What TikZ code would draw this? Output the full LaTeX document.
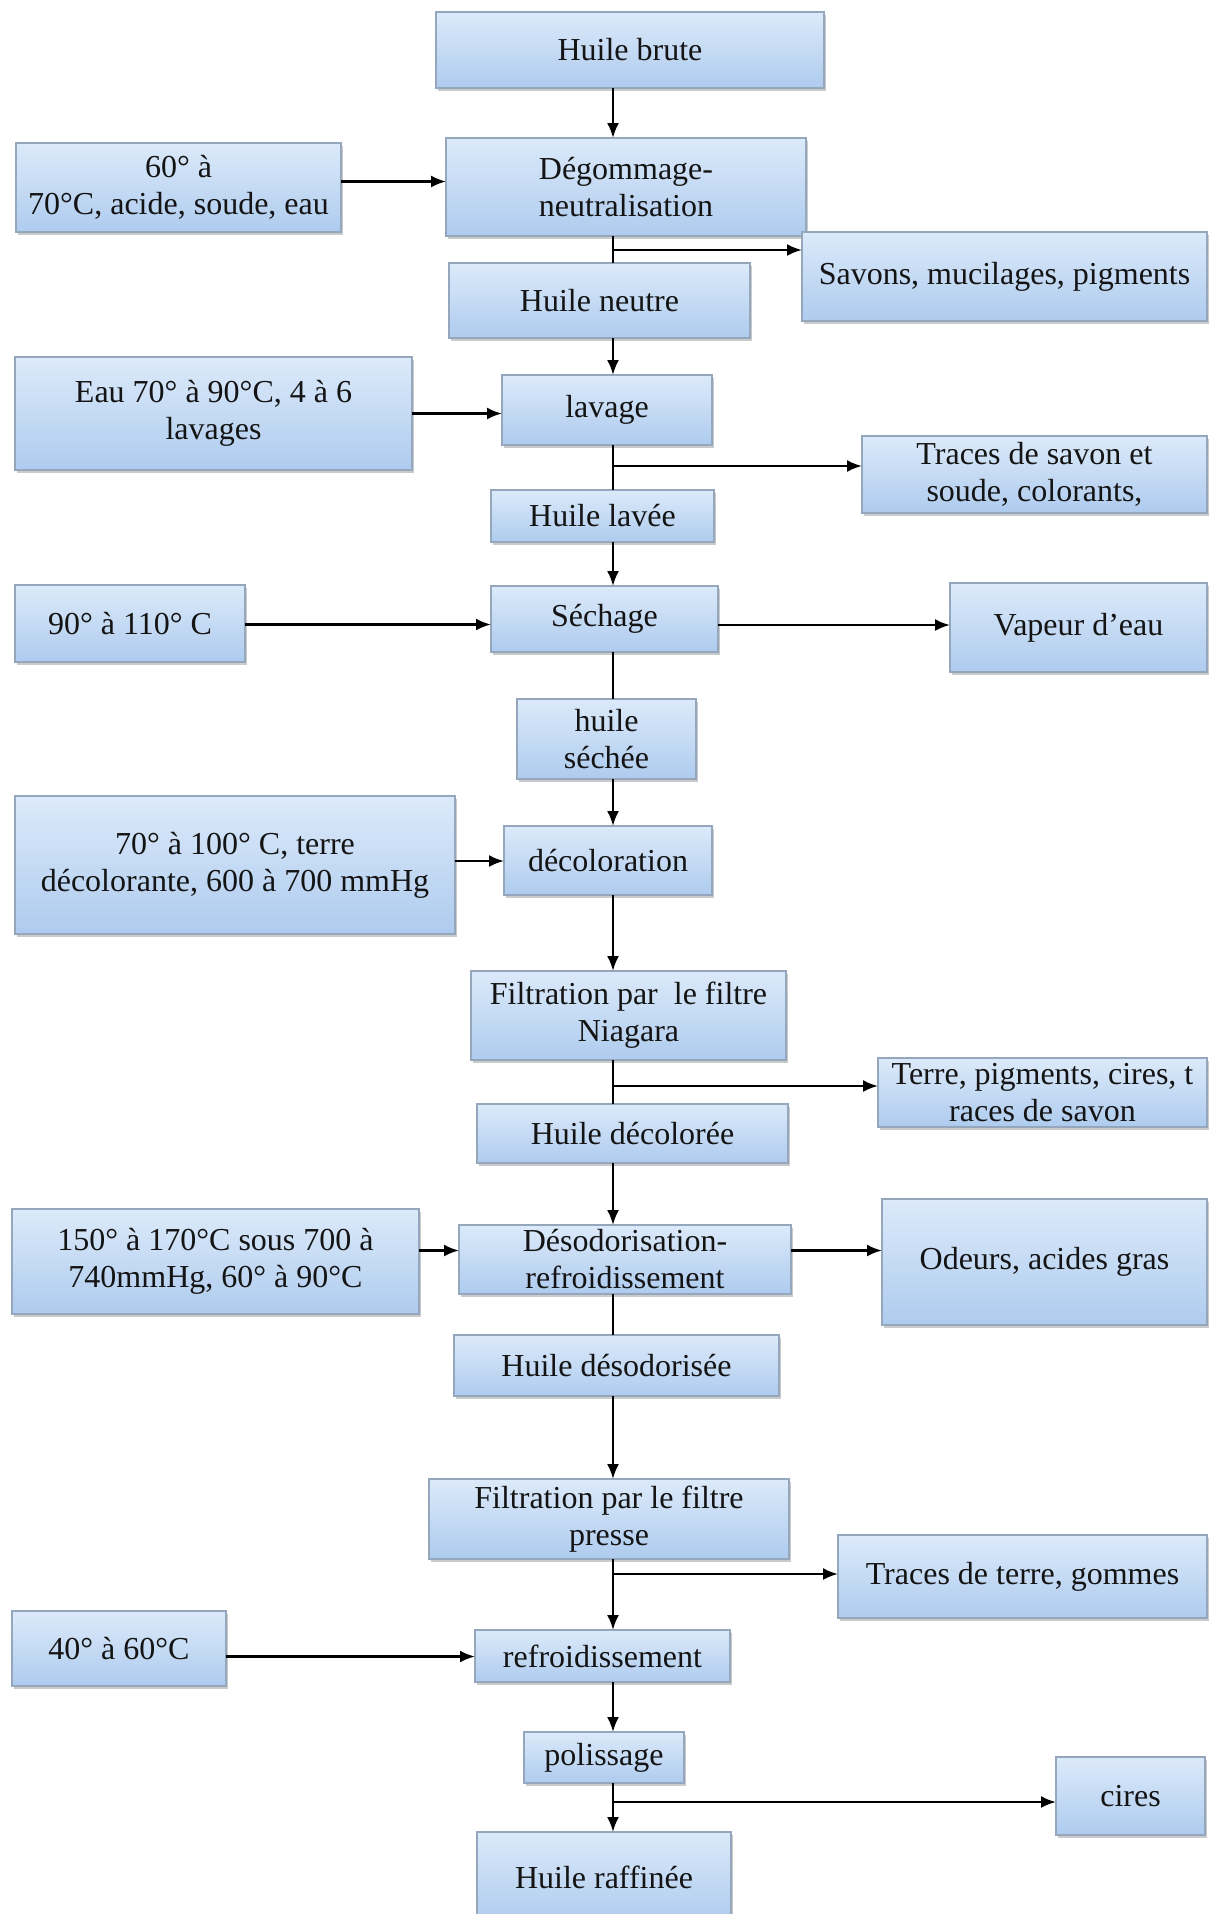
\documentclass[tikz,border=0pt]{standalone}
\usepackage{fontspec}
\setmainfont{Liberation Serif}
\usepackage{tikz}
\usetikzlibrary{arrows.meta}
\usetikzlibrary{shadows}
\definecolor{boxtop}{HTML}{DCEAFA}
\definecolor{boxbot}{HTML}{AECBEE}
\definecolor{boxline}{HTML}{95A7BD}
\definecolor{ink}{HTML}{141414}

\begin{document}
\begin{tikzpicture}[x=1pt, y=-1pt, every node/.style={font=\fontsize{32}{37}\selectfont, text=ink},
  box/.style={rectangle, draw=boxline, line width=1.2pt, top color=boxtop, bottom color=boxbot, inner sep=0pt, outer sep=0pt, align=center,
    drop shadow={shadow xshift=2pt, shadow yshift=-3pt, opacity=0.35, fill=black!60}},
  wh/.style 2 args={minimum width=#1, minimum height=#2},
  arr/.style={line width=2.4pt, -{Latex[length=15pt, width=12pt]}},
  seg/.style={line width=2.4pt}]
        % Fix the page size
        \useasboundingbox (0,0) rectangle (1209,1914);
        % Define the x of the main vertical line
        \def\sx{613}
        \coordinate (sp) at (\sx,0);

        % Draw the main column
        \node[box, wh={388}{76}] (brute) at (630,50) {Huile brute};
        \node[box, wh={360}{98}] (degom) at (626,187) {Dégommage-\\neutralisation};
        \node[box, wh={301}{75}] (neutre) at (599.5,300.5) {Huile neutre};
        \node[box, wh={210}{70}] (lavage) at (607,410) {lavage};
        \node[box, wh={223}{52}] (lavee) at (602.5,516) {Huile lavée};
        \node[box, wh={227}{66}] (sechage) at (604.5,619) {Séchage};
        \node[box, wh={179}{80}] (sechee) at (606.5,739) {huile\\séchée};
        \node[box, wh={208}{69}] (decolo) at (608,860.5) {décoloration};
        \node[box, wh={315}{89}] (niagara) at (628.5,1015.5) {Filtration par\ \ le filtre\\Niagara};
        \node[box, wh={311}{59}] (decoloree) at (632.5,1133.5) {Huile décolorée};
        \node[box, wh={332}{69}] (desodo) at (625,1259.5) {Désodorisation-\\refroidissement};
        \node[box, wh={325}{61}] (desodorisee) at (616.5,1365.5) {Huile désodorisée};
        \node[box, wh={360}{80}] (presse) at (609,1519) {Filtration par le filtre\\presse};
        \node[box, wh={255}{52}] (refroid) at (602.5,1656) {refroidissement};
        \node[box, wh={160}{51}] (poliss) at (604,1757.5) {polissage};
        \node[box, wh={254}{90}] (raffinee) at (604,1877) {Huile raffinée};

        % Draw the conditions on the left
        \node[box, wh={325}{89}] (c1) at (178.5,187.5) {60° à\\70°C, acide, soude, eau};
        \node[box, wh={397}{113}] (c2) at (213.5,413.5) {Eau 70° à 90°C, 4 à 6\\lavages};
        \node[box, wh={230}{77}] (c3) at (130,623.5) {90° à 110° C};
        \node[box, wh={440}{138}] (c4) at (235,865) {70° à 100° C, terre\\décolorante, 600 à 700 mmHg};
        \node[box, wh={407}{105}] (c5) at (215.5,1261.5) {150° à 170°C sous 700 à\\740mmHg, 60° à 90°C};
        \node[box, wh={214}{75}] (c6) at (119,1648.5) {40° à 60°C};

        % Draw the by-products on the right
        \node[box, wh={405}{89}] (r1) at (1004.5,276.5) {Savons, mucilages, pigments};
        \node[box, wh={345}{77}] (r2) at (1034.5,474.5) {Traces de savon et\\soude, colorants,};
        \node[box, wh={257}{89}] (r3) at (1078.5,627.5) {Vapeur d’eau};
        \node[box, wh={329}{69}] (r4) at (1042.5,1092.5) {Terre, pigments, cires, t\\races de savon};
        \node[box, wh={325}{126}] (r5) at (1044.5,1262) {Odeurs, acides gras};
        \node[box, wh={369}{83}] (r6) at (1022.5,1576.5) {Traces de terre, gommes};
        \node[box, wh={149}{78}] (r7) at (1130.5,1796) {cires};

        % Draw the main line, plain or with an arrow
        \draw[arr] (brute.south -| sp) -- (degom.north -| sp);
        \draw[seg] (degom.south -| sp) -- (neutre.north -| sp);
        \draw[arr] (neutre.south -| sp) -- (lavage.north -| sp);
        \draw[seg] (lavage.south -| sp) -- (lavee.north -| sp);
        \draw[arr] (lavee.south -| sp) -- (sechage.north -| sp);
        \draw[seg] (sechage.south -| sp) -- (sechee.north -| sp);
        \draw[arr] (sechee.south -| sp) -- (decolo.north -| sp);
        \draw[arr] (decolo.south -| sp) -- (niagara.north -| sp);
        \draw[seg] (niagara.south -| sp) -- (decoloree.north -| sp);
        \draw[arr] (decoloree.south -| sp) -- (desodo.north -| sp);
        \draw[seg] (desodo.south -| sp) -- (desodorisee.north -| sp);
        \draw[arr] (desodorisee.south -| sp) -- (presse.north -| sp);
        \draw[arr] (presse.south -| sp) -- (refroid.north -| sp);
        \draw[arr] (refroid.south -| sp) -- (poliss.north -| sp);
        \draw[arr] (poliss.south -| sp) -- (raffinee.north -| sp);

        % Draw the inputs from the left (yshift is up)
        \foreach \c/\t/\dy in {c1/degom/6, c2/lavage/0, c3/sechage/-1, c4/decolo/4, c5/desodo/11, c6/refroid/-8}
        {
          \draw[arr] ([yshift=\dy]\c.east) -- ([yshift=\dy]\c.east -| \t.west);
        }

        % Draw the branches to the right
        \coordinate (b1) at (\sx,250);
        \coordinate (b2) at (\sx,466);
        \coordinate (b4) at (\sx,1086);
        \coordinate (b6) at (\sx,1574);
        \coordinate (b7) at (\sx,1802);
        \foreach \b/\r in {b1/r1, b2/r2, b4/r4, b6/r6, b7/r7}
        {
          \draw[arr] (\b) -- (\b -| \r.west);
        }
        \draw[arr] ([yshift=-6]sechage.east) -- ([yshift=-6]sechage.east -| r3.west);
        \draw[arr] ([yshift=9]desodo.east) -- ([yshift=9]desodo.east -| r5.west);
      \end{tikzpicture}
\end{document}
